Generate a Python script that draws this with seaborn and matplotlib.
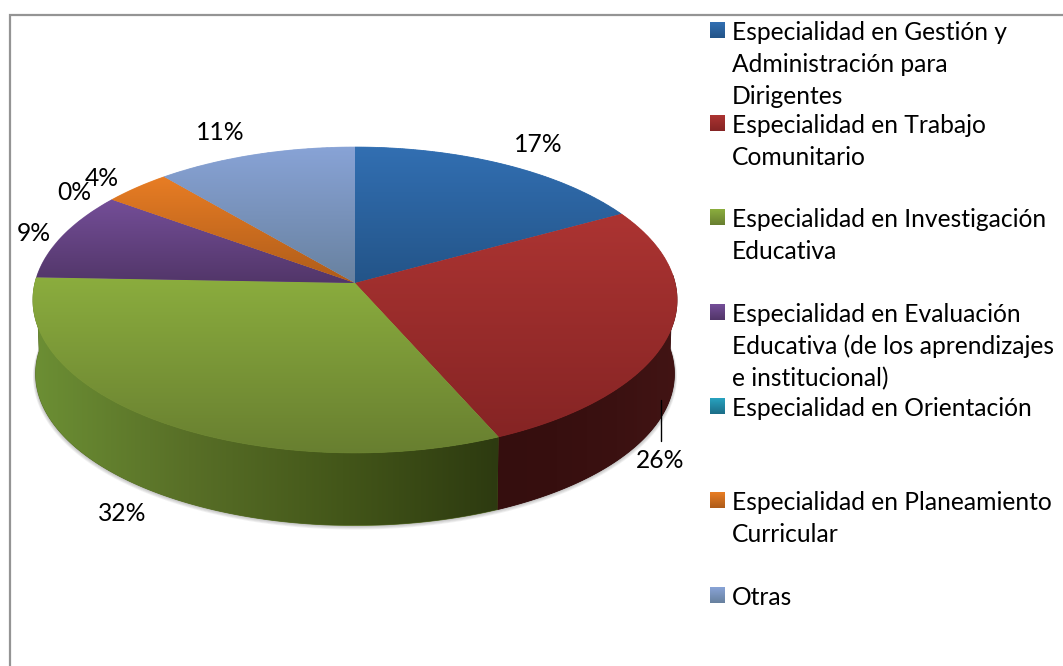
import numpy as np
import matplotlib
matplotlib.use("Agg")
import matplotlib.pyplot as plt
from matplotlib.collections import LineCollection
from matplotlib.colors import LinearSegmentedColormap
from matplotlib.patches import Polygon
from matplotlib.path import Path
from matplotlib.transforms import Transform
import seaborn as sns

categories = [
    "Especialidad en Gestión y\nAdministración para\nDirigentes",
    "Especialidad en Trabajo\nComunitario",
    "Especialidad en Investigación\nEducativa",
    "Especialidad en Evaluación\nEducativa (de los aprendizajes\ne institucional)",
    "Especialidad en Orientación",
    "Especialidad en Planeamiento\nCurricular",
    "Otras",
]
values = [17.0, 26.4, 32.2, 9.4, 0.0, 3.8, 11.2]
colors_light = ["#326fb2", "#ac3432", "#8bad3e", "#744e98", "#28a2bf", "#e87d24", "#88a3d6"]
colors_dark = ["#235488", "#852424", "#687f30", "#523669", "#1c6e88", "#ae5c1a", "#68819f"]
side_stops = {1: ["#350e0e", "#370f0f", "#3b1111", "#421414"],
              2: ["#6c8f34", "#586f27", "#435619", "#2d3a10"]}

sns.set_theme(style="white")
plt.rcParams["font.family"] = ["Lato", "DejaVu Sans"]
FS = 17.75

CX, CY = 355.0, 283.0
RX, RY, PERSP = 320.0, 151.0, 0.111
DEPTH, SHRINK = 74.0, 0.992


class DiscProjection(Transform):
    input_dims = output_dims = 2

    def __init__(self, scale=1.0, shift=0.0):
        super().__init__()
        self.scale, self.shift = scale, shift

    def transform_non_affine(self, xy):
        xy = np.asarray(xy, float)
        w = 1 + PERSP * xy[:, 1]
        return np.column_stack((CX + self.scale * RX * xy[:, 0] / w,
                                CY + self.shift - self.scale * RY * xy[:, 1] / w))

    def transform_path_non_affine(self, path):
        return Path(self.transform_non_affine(path.vertices), path.codes)


fig = plt.figure(figsize=(10.63, 6.66), dpi=100)
ax = fig.add_axes([0, 0, 1, 1])
top_proj = DiscProjection()
bot_proj = DiscProjection(SHRINK, DEPTH)

wedges, _ = ax.pie(values, startangle=90, counterclock=False, colors=colors_light,
                   wedgeprops=dict(linewidth=0))
ax.set_aspect("auto")


def arc(theta1, theta2, n=160):
    t = np.radians(np.linspace(theta1, theta2, n))
    return np.column_stack((np.cos(t), np.sin(t)))


# soft shadow under the rim
rim = arc(-215, 35, 300)
for k in range(1, 6):
    pts = DiscProjection(SHRINK + 0.0016 * k, DEPTH + 0.55 * k).transform_non_affine(rim)
    ax.add_patch(Polygon(pts, fc="#404040", ec="none", alpha=0.07, zorder=0.5))

# side walls
for i, w in enumerate(wedges):
    if i not in side_stops:
        continue
    lo, hi = max(w.theta1, -183.0), min(w.theta2, 3.0)
    a = arc(lo, hi)
    pts = np.vstack((top_proj.transform_non_affine(a),
                     bot_proj.transform_non_affine(a)[::-1]))
    poly = Polygon(pts, fc=side_stops[i][1], ec=side_stops[i][1], lw=0.6, zorder=1)
    ax.add_patch(poly)
    cmap = LinearSegmentedColormap.from_list(f"s{i}", side_stops[i])
    im = ax.imshow(np.linspace(0, 1, 256)[None, :], cmap=cmap, aspect="auto", zorder=1.2,
                   extent=(pts[:, 0].min(), pts[:, 0].max(), pts[:, 1].max(), pts[:, 1].min()))
    im.set_clip_path(poly)

# top face with a vertical gradient in each slice
for i, w in enumerate(wedges):
    if values[i] == 0:
        w.set_visible(False)
        continue
    w.set_transform(top_proj + ax.transData)
    w.set_zorder(2)
    a = arc(w.theta1, w.theta2)
    outer = top_proj.transform_non_affine(a)
    pts = np.vstack((outer, [[CX, CY]]))
    ymin, ymax = pts[:, 1].min(), pts[:, 1].max()
    cmap = LinearSegmentedColormap.from_list(f"t{i}", [colors_light[i], colors_dark[i]])
    im = ax.imshow(np.linspace(0, 1, 256)[:, None], cmap=cmap, aspect="auto", zorder=2.2,
                   extent=(pts[:, 0].min(), pts[:, 0].max(), ymax, ymin))
    im.set_clip_path(w)
    # thin smooth outline following the same gradient, softens the clipped edge
    segs = np.stack((outer[:-1], outer[1:]), axis=1)
    shade = cmap((segs[:, :, 1].mean(axis=1) - ymin) / (ymax - ymin))
    ax.add_collection(LineCollection(segs, colors=shade, linewidths=0.6, zorder=2.4), autolim=False)

# data labels
label_xy = [(538, 144.5), (660, 460.5), (122, 513.5), (34, 233.5), (74, 192.5), (102, 178.5), (220, 132.5)]
for v, (x, y) in zip(values, label_xy):
    ax.text(x, y, f"{round(v)}%", ha="center", va="center", fontsize=FS, color="black", zorder=5)
ax.plot([661, 661], [400, 441], color="black", lw=1.0, zorder=4)

# legend
legend_y = [31, 124, 218, 313, 407, 501, 596]
LINE = 32.2
for i, (name, y) in enumerate(zip(categories, legend_y)):
    cmap = LinearSegmentedColormap.from_list(f"l{i}", [colors_light[i], colors_dark[i]])
    ax.imshow(np.linspace(0, 1, 32)[:, None], cmap=cmap, aspect="auto", zorder=3,
              extent=(710, 725, y + 7.5, y - 8.5))
    for j, line in enumerate(name.split("\n")):
        ax.text(732, y + 1.5 + j * LINE, line, ha="left", va="center", fontsize=FS, color="black", zorder=5)

# frame of the original picture
ax.plot([10, 10, 1063], [666, 14.5, 14.5], color="#949494", lw=1.6, zorder=6,
        solid_joinstyle="miter")

ax.set_xlim(0, 1063)
ax.set_ylim(666, 0)
ax.axis("off")
fig.savefig("out.png", dpi=100, facecolor="white")
